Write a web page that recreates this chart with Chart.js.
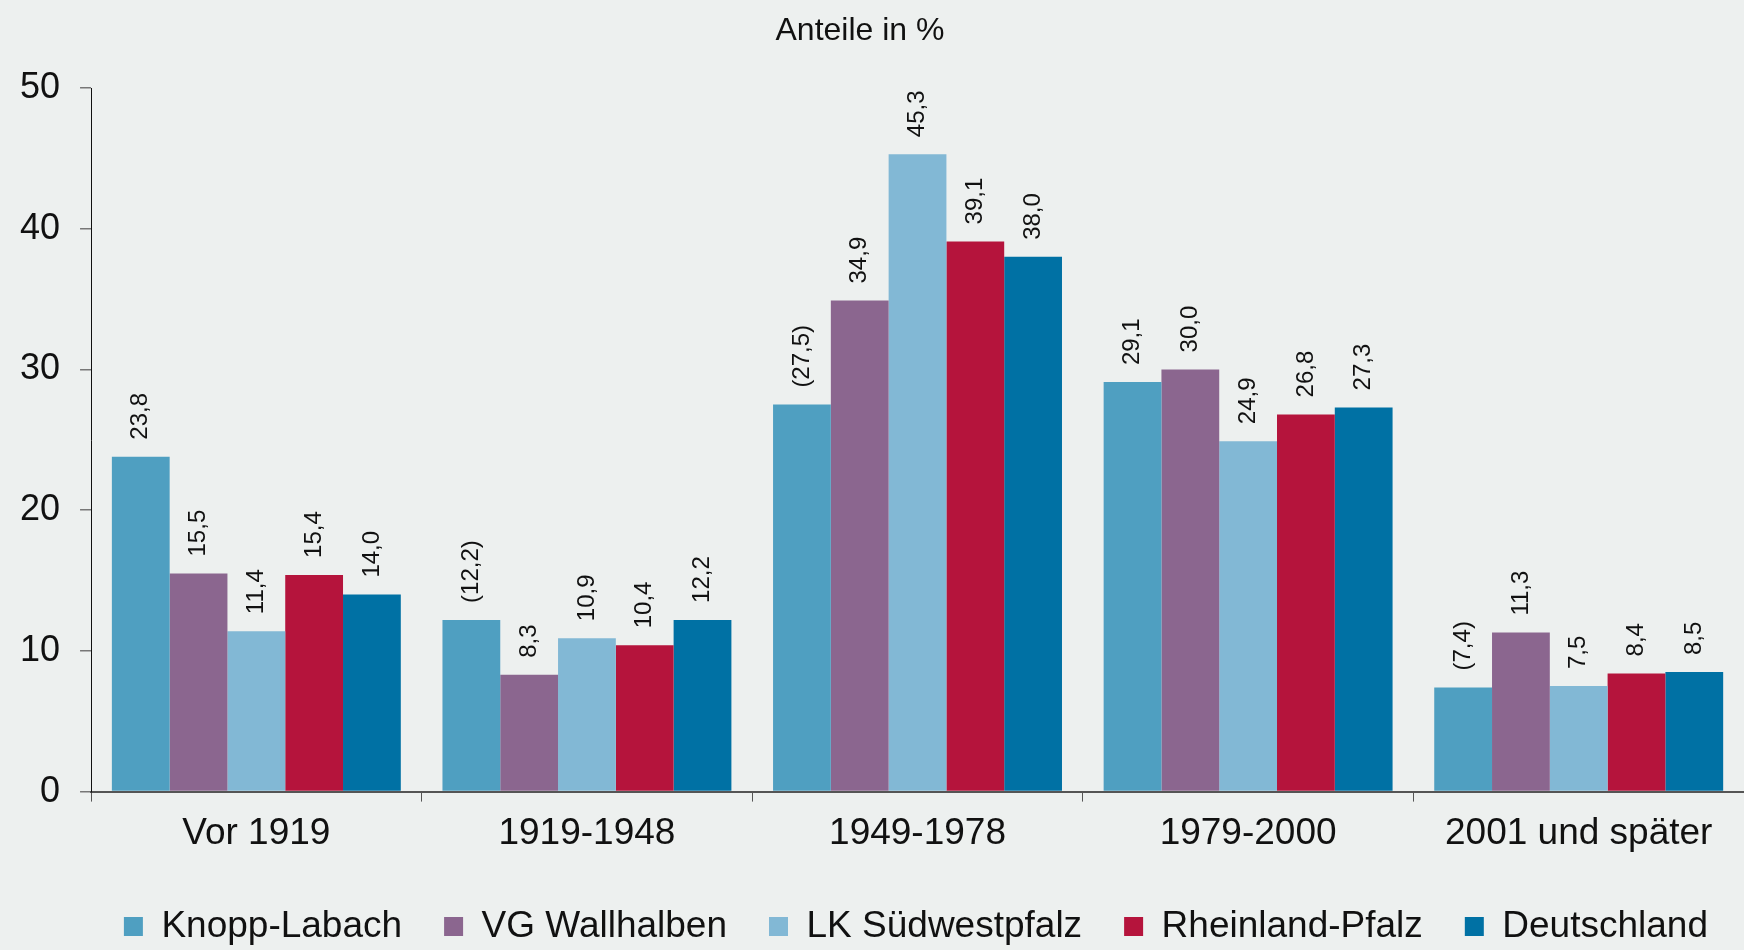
<!DOCTYPE html>
<html>
<head>
<meta charset="utf-8">
<script src="https://cdn.jsdelivr.net/npm/chart.js@4"></script>
<style>
  html, body { margin: 0; padding: 0; background: #edf0ef; }
  #wrap { width: 1744px; height: 950px; overflow: hidden; }
</style>
</head>
<body>
<div id="wrap"><canvas id="c" width="1744" height="950"></canvas></div>
<script>
const titleText = 'Anteile in %';
const categories = ['Vor 1919', '1919-1948', '1949-1978', '1979-2000', '2001 und später'];
const seriesNames = ['Knopp-Labach', 'VG Wallhalben', 'LK Südwestpfalz', 'Rheinland-Pfalz', 'Deutschland'];
const knoppLabach = [23.8, 12.2, 27.5, 29.1, 7.4];
const vgWallhalben = [15.5, 8.3, 34.9, 30.0, 11.3];
const lkSuedwestpfalz = [11.4, 10.9, 45.3, 24.9, 7.5];
const rheinlandPfalz = [15.4, 10.4, 39.1, 26.8, 8.4];
const deutschland = [14.0, 12.2, 38.0, 27.3, 8.5];
// values shown in brackets (limited reliability) for Knopp-Labach
const knoppBracketed = [false, true, true, false, true];
const yTicks = [0, 10, 20, 30, 40, 50];
const colors = ['#4f9fc1', '#8b668f', '#82b8d5', '#b5143c', '#0071a4'];

const FONT = '"Liberation Sans", Arial, sans-serif';
const seriesValues = [knoppLabach, vgWallhalben, lkSuedwestpfalz, rheinlandPfalz, deutschland];
const brackets = [knoppBracketed, null, null, null, null];

const valueLabels = {
  id: 'valueLabels',
  afterDatasetsDraw(chart) {
    const ctx = chart.ctx;
    ctx.save();
    ctx.font = '24px ' + FONT;
    ctx.fillStyle = '#111';
    ctx.textAlign = 'left';
    ctx.textBaseline = 'middle';
    chart.data.datasets.forEach((ds, di) => {
      const meta = chart.getDatasetMeta(di);
      meta.data.forEach((el, i) => {
        let txt = ds.data[i].toFixed(1).replace('.', ',');
        if (brackets[di] && brackets[di][i]) txt = '(' + txt + ')';
        ctx.save();
        ctx.translate(el.x, el.y - 17);
        ctx.rotate(-Math.PI / 2);
        ctx.fillText(txt, 0, 0);
        ctx.restore();
      });
    });
    ctx.restore();
  }
};

const unitTitle = {
  id: 'unitTitle',
  afterDraw(chart) {
    const ctx = chart.ctx;
    ctx.save();
    ctx.font = '32px ' + FONT;
    ctx.fillStyle = '#111';
    ctx.textAlign = 'center';
    ctx.textBaseline = 'middle';
    ctx.fillText(titleText, 860, 31);
    ctx.restore();
  }
};

new Chart(document.getElementById('c'), {
  type: 'bar',
  data: {
    labels: categories,
    datasets: seriesNames.map((n, i) => ({
      label: n,
      data: seriesValues[i],
      backgroundColor: colors[i],
      borderWidth: 0,
      barPercentage: 1.0,
      categoryPercentage: 0.874
    }))
  },
  options: {
    responsive: false,
    animation: false,
    devicePixelRatio: 1,
    layout: { padding: { left: 0, right: -6, top: 88, bottom: -5 } },
    plugins: {
      tooltip: { enabled: false },
      title: { display: false },
      legend: {
        position: 'bottom',
        align: 'end',
        labels: {
          color: '#111',
          font: { family: FONT, size: 37 },
          boxWidth: 19,
          boxHeight: 19,
          padding: 42,
          useBorderRadius: false
        }
      }
    },
    scales: {
      x: {
        grid: {
          display: true,
          offset: true,
          drawOnChartArea: false,
          drawTicks: true,
          tickLength: 10,
          color: '#555',
          lineWidth: 1
        },
        border: { display: true, color: '#555', width: 2 },
        ticks: {
          color: '#111',
          font: { family: FONT, size: 37 },
          padding: 10,
          maxRotation: 0
        }
      },
      y: {
        min: 0,
        max: 50,
        afterBuildTicks(scale) { scale.ticks = yTicks.map(v => ({ value: v })); },
        grid: {
          display: true,
          drawOnChartArea: false,
          drawTicks: true,
          tickLength: 11,
          color: '#777',
          lineWidth: 1.5
        },
        border: { display: true, color: '#111', width: 1 },
        ticks: {
          color: '#111',
          font: { family: FONT, size: 36 },
          padding: 20
        }
      }
    }
  },
  plugins: [valueLabels, unitTitle]
});
</script>
</body>
</html>
